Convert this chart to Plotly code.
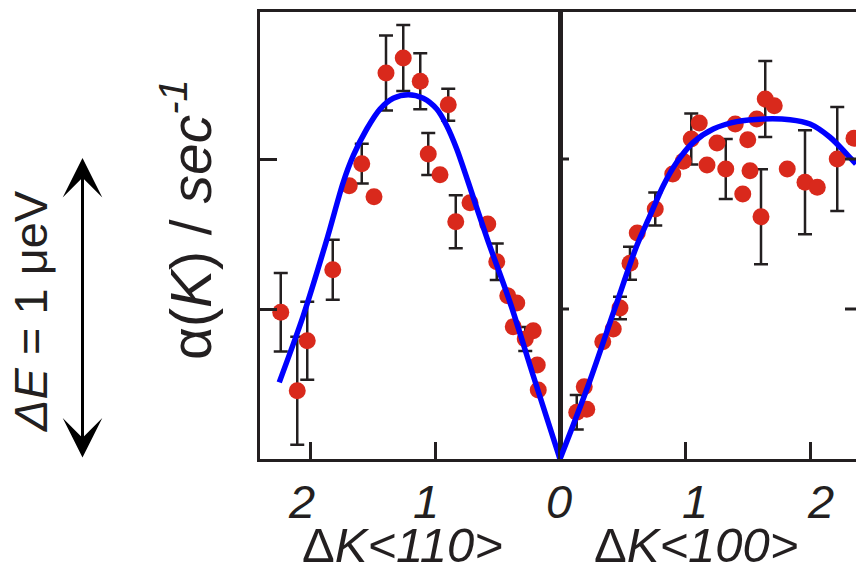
import plotly.graph_objects as go

# ---------------- data ----------------
# Left panel: Delta K along <110>
k110 = [2.234, 2.102, 2.022, 1.818, 1.686, 1.586, 1.488, 1.392, 1.254, 1.118, 1.054, 0.960,
        0.894, 0.834, 0.720, 0.578, 0.506, 0.418, 0.346, 0.374, 0.278, 0.214, 0.182, 0.174]
a110 = [0.978, 0.455, 0.789, 1.262, 1.822, 1.969, 1.749, 2.573, 2.673, 2.518, 2.033, 1.895,
        2.362, 1.582, 1.709, 1.567, 1.315, 1.089, 1.040, 0.882, 0.800, 0.855, 0.627, 0.460]
e110 = [0.262, 0.360, 0.260, 0.200, None, 0.133, None, 0.250, 0.220, 0.187, 0.140, None,
        0.107, 0.177, None, None, 0.122, None, None, None, 0.080, None, None, None]

# Right panel: Delta K along <100>
k100 = [0.134, 0.214, 0.194, 0.342, 0.426, 0.480, 0.560, 0.618, 0.762, 0.902, 0.986, 1.050,
        1.114, 1.176, 1.256, 1.326, 1.402, 1.462, 1.502, 1.520, 1.574, 1.608, 1.642, 1.714,
        1.818, 1.960, 2.058, 2.218, 2.352]
a100 = [0.311, 0.331, 0.482, 0.782, 0.867, 1.007, 1.305, 1.507, 1.667, 1.900, 1.985, 2.133,
        2.240, 1.960, 2.107, 1.933, 2.233, 1.767, 2.129, 1.922, 2.267, 1.615, 2.400, 2.355,
        1.933, 1.845, 1.811, 2.000, 2.138]
e100 = [0.115, None, None, None, None, 0.075, 0.110, None, 0.110, None, None, 0.170,
        None, None, None, 0.200, None, None, None, None, None, 0.317, 0.253, None,
        None, 0.346, None, 0.347, None]

# Fitted curves
fit110_k = [2.246, 2.054, 1.864, 1.734, 1.654, 1.546, 1.440, 1.334, 1.214, 1.094, 0.986,
            0.906, 0.826, 0.734, 0.582, 0.400, 0.214, 0.0]
fit110_a = [0.511, 0.955, 1.467, 1.845, 2.022, 2.200, 2.333, 2.405, 2.429, 2.405, 2.333,
            2.222, 2.067, 1.845, 1.467, 1.045, 0.555, 0.0]
fit100_k = [0.0, 0.23, 0.44, 0.614, 0.720, 0.826, 0.934, 1.066, 1.226, 1.414, 1.626, 1.840,
            2.000, 2.160, 2.294, 2.368]
fit100_a = [0.0, 0.50, 1.007, 1.422, 1.622, 1.822, 1.978, 2.111, 2.200, 2.249, 2.267, 2.262,
            2.233, 2.145, 2.033, 1.967]

x_ticks_110 = [2, 1]
x_ticks_100 = [0, 1, 2]
y_ticks = [1, 2]

# ---------------- styling ----------------
INK = "#231F20"
RED = "#D9291C"
BLUE = "#0000FF"
FONT = "Liberation Sans, Arial, sans-serif"

W, H = 856, 573
ML, MR, MT, MB = 260, 0, 12, 114
split = 300 / 596.0

fig = go.Figure()

err_style = dict(type="data", color=INK, thickness=2.5, width=7, visible=True)

fig.add_trace(go.Scatter(x=k110, y=a110, mode="markers", xaxis="x", yaxis="y",
                         marker=dict(size=17, color=RED),
                         error_y=dict(array=e110, **err_style), showlegend=False))
fig.add_trace(go.Scatter(x=k100, y=a100, mode="markers", xaxis="x2", yaxis="y2",
                         marker=dict(size=17, color=RED),
                         error_y=dict(array=e100, **err_style), showlegend=False))
fig.add_trace(go.Scatter(x=fit110_k, y=fit110_a, mode="lines", xaxis="x", yaxis="y",
                         line=dict(color=BLUE, width=5.5, shape="spline", smoothing=0.8),
                         showlegend=False))
fig.add_trace(go.Scatter(x=fit100_k, y=fit100_a, mode="lines", xaxis="x2", yaxis="y2",
                         line=dict(color=BLUE, width=5.5, shape="spline", smoothing=0.8),
                         showlegend=False))

common_x = dict(showline=True, linewidth=3, linecolor=INK, mirror=True, ticks="inside",
                ticklen=17, tickwidth=3, tickcolor=INK, showgrid=False, zeroline=False,
                showticklabels=False)

yr = [0, 447 / 150.0]

fig.update_layout(
    width=W, height=H,
    margin=dict(l=ML, r=MR, t=MT, b=MB),
    paper_bgcolor="white", plot_bgcolor="white",
    xaxis=dict(domain=[0, split], range=[2.4, 0], anchor="y", tickvals=x_ticks_110, **common_x),
    xaxis2=dict(domain=[split, 1], range=[0, 2.368], anchor="y2", tickvals=x_ticks_100, **common_x),
    yaxis=dict(range=yr, anchor="x", showline=True, linewidth=3, linecolor=INK, mirror=True,
               ticks="inside", ticklen=17, tickwidth=3, tickcolor=INK, tickvals=y_ticks,
               showticklabels=False, showgrid=False, zeroline=False),
    yaxis2=dict(range=yr, anchor="x2", matches="y", showline=True, linewidth=2, linecolor=INK,
                ticks="", showticklabels=False, showgrid=False, zeroline=False),
)

shapes = []
for yv in y_ticks:
    # ticks on the divider
    shapes.append(dict(type="line", xref="x2", yref="y2", xsizemode="pixel", xanchor=0,
                       x0=-9, x1=9, y0=yv, y1=yv, line=dict(color=INK, width=3)))
    # ticks on the right edge
    shapes.append(dict(type="line", xref="paper", yref="y2", xsizemode="pixel", xanchor=1,
                       x0=-11, x1=0, y0=yv, y1=yv, line=dict(color=INK, width=3)))
fig.update_layout(shapes=shapes)

plot_h = H - MT - MB
plot_w = W - ML - MR


def px_x(px):
    return (px - ML) / plot_w


def px_y(py):
    return (H - MB - py) / plot_h


tickfont = dict(family=FONT, size=47, color=INK, style="italic")
annotations = []
# tick labels (italic)
for v in x_ticks_110:
    annotations.append(dict(text=str(v), xref="x", yref="paper", x=v, y=px_y(502),
                            xanchor="center", yanchor="middle", showarrow=False,
                            xshift=-9, font=tickfont))
for v in x_ticks_100:
    annotations.append(dict(text=str(v), xref="x2", yref="paper", x=v, y=px_y(502),
                            xanchor="center", yanchor="middle", showarrow=False,
                            xshift=(10 if v else -1), font=tickfont))

annotations += [
    dict(text="\u0394<i>K&lt;110&gt;</i>", xref="paper", yref="paper",
         x=px_x(402), y=px_y(545), xanchor="center", yanchor="middle", showarrow=False,
         font=dict(family=FONT, size=49, color=INK)),
    dict(text="\u0394<i>K&lt;100&gt;</i>", xref="paper", yref="paper",
         x=px_x(696), y=px_y(545), xanchor="center", yanchor="middle", showarrow=False,
         font=dict(family=FONT, size=49, color=INK)),
    dict(text="\u03b1(<i>K</i>) / <i>sec</i><sup><i>-1</i></sup>", xref="paper", yref="paper",
         x=px_x(187), y=px_y(220), xanchor="center", yanchor="middle", showarrow=False,
         textangle=-90, font=dict(family=FONT, size=57, color=INK)),
    dict(text="<i>\u0394E</i> = 1 \u03bceV", xref="paper", yref="paper",
         x=px_x(30), y=px_y(311), xanchor="center", yanchor="middle", showarrow=False,
         textangle=-90, font=dict(family=FONT, size=47, color=INK)),
    dict(text="", xref="paper", yref="paper", x=px_x(82.5), y=px_y(158),
         showarrow=True, ax=0, ay=301, axref="pixel", ayref="pixel",
         arrowside="end+start", arrowhead=3, arrowsize=2.2, arrowwidth=3,
         arrowcolor="black", standoff=0, startstandoff=0),
]
fig.update_layout(annotations=annotations)

fig.write_html("out.html")
